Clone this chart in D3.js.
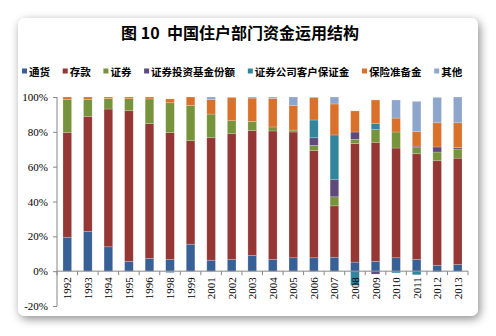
<!DOCTYPE html>
<html>
<head>
<meta charset="utf-8">
<script src="https://cdn.jsdelivr.net/npm/d3@7/dist/d3.min.js"></script>
<style>
  html, body { margin: 0; padding: 0; background: #ffffff; }
  svg { display: block; }
</style>
</head>
<body>
<svg id="chart" width="496" height="336"></svg>
<script>
// Household sector fund use structure (share of total, %)
const years = ["1992","1993","1994","1995","1996","1998","1999","2001","2002","2003",
               "2004","2005","2006","2007","2008","2009","2010","2011","2012","2013"];

const currency   = [19.5, 22.8, 14.0,  5.6,  7.3,  6.7, 15.5,  6.3,  6.7,  9.0,  6.7,  7.7,  7.7,  8.0,  5.2,  5.6,  7.7,  6.7,  3.4,  3.8];
const deposits   = [60.2, 66.1, 79.1, 86.5, 77.4, 72.8, 59.4, 70.3, 72.2, 71.7, 73.8, 72.2, 61.5, 29.5, 68.0, 68.4, 63.0, 60.7, 60.0, 61.1];
const securities = [19.0,  9.8,  6.1,  6.9, 14.2, 17.2, 20.3, 13.6,  7.5,  5.3,  2.3,  1.1,  3.0,  5.2,  2.5,  7.3,  9.2,  3.5,  5.0,  5.2];
const funds      = [ 0,    0,    0,    0,    0,    0,    0,    0,    0,    0,    0,    0,    4.4,  9.8,  4.2, -1.7,  0,    0.9,  2.9,  0.8];
const margin     = [ 0,    0,    0,    0,    0,    0,    0,    0,    0,    0,    0,    0,   10.2, 25.7, -8.2,  3.4, -1.0, -2.1, -0.5,  0  ];
const insurance  = [ 1.3,  1.3,  0.8,  1.0,  1.1,  2.2,  4.8,  8.3, 13.2, 13.4, 16.4, 14.2, 12.8, 17.8, 12.1, 13.6,  8.0,  8.3, 13.9, 14.3];
const others     = [ 0,    0,    0,    0,    0,   -1.0,  0,    1.5,  0.4,  0.6,  0.8,  4.8,  0.4,  4.0,  0,    0,   10.4, 17.4, 14.6, 14.8];

const seriesNames  = ["通货","存款","证券","证券投资基金份额","证券公司客户保证金","保险准备金","其他"];
const seriesValues = [currency, deposits, securities, funds, margin, insurance, others];
const seriesColors = ["#376196","#953735","#77933c","#604a7b","#31859c","#d9712b","#8ea6cc"];

const yTicks = [-20, 0, 20, 40, 60, 80, 100];
const titleText = "图 10  中国住户部门资金运用结构";

// ---- layout ----
const svg = d3.select("#chart");
const plot = { left: 57, right: 468, top: 97, bottom: 306 };

const defs = svg.append("defs");
const shadow = defs.append("filter").attr("id", "cardShadow")
  .attr("x", "-10%").attr("y", "-10%").attr("width", "120%").attr("height", "125%");
shadow.append("feDropShadow").attr("dx", 2).attr("dy", 3).attr("stdDeviation", 5)
  .attr("flood-color", "#000").attr("flood-opacity", 0.45);

// card
svg.append("rect")
  .attr("x", 18).attr("y", 18).attr("width", 460).attr("height", 298)
  .attr("rx", 7).attr("ry", 7)
  .attr("fill", "#ffffff")
  .attr("filter", "url(#cardShadow)");

// title
svg.append("text")
  .attr("x", 240).attr("y", 39)
  .attr("text-anchor", "middle")
  .attr("font-family", "'Noto Sans CJK SC', sans-serif")
  .attr("font-weight", 700)
  .attr("font-size", 16)
  .attr("fill", "#000")
  .attr("xml:space", "preserve")
  .text(titleText);

// legend (flow layout)
const legend = svg.append("g").attr("transform", "translate(22,71)");
let lx = 0;
seriesNames.forEach((name, i) => {
  const g = legend.append("g").attr("transform", `translate(${lx},0)`);
  g.append("rect").attr("x", 0).attr("y", -2.5).attr("width", 5).attr("height", 5)
    .attr("fill", seriesColors[i]);
  const t = g.append("text").attr("x", 7).attr("y", 0)
    .attr("dominant-baseline", "central")
    .attr("font-family", "'Noto Sans CJK SC', sans-serif")
    .attr("font-weight", 700)
    .attr("font-size", 10.5)
    .attr("fill", "#000")
    .text(name);
  lx += 7 + t.node().getComputedTextLength() + 12.7;
});

// scales
const x = d3.scaleBand().domain(years)
  .range([plot.left, plot.right])
  .paddingInner(0.58).paddingOuter(0.29);
const xEdge = d3.scaleLinear().domain([0, years.length]).range([plot.left, plot.right]);
const y = d3.scaleLinear().domain([-20, 100]).range([plot.bottom, plot.top]);

// stacked data (diverging so negative shares fall below zero)
const table = years.map((yr, i) => {
  const row = { year: yr };
  seriesNames.forEach((n, s) => { row[n] = seriesValues[s][i]; });
  return row;
});
const stacked = d3.stack().keys(seriesNames).offset(d3.stackOffsetDiverging)(table);

const barsG = svg.append("g");
stacked.forEach((layer, s) => {
  barsG.append("g").attr("fill", seriesColors[s])
    .selectAll("rect")
    .data(layer.filter(d => d[1] !== d[0]))
    .join("rect")
    .attr("x", d => x(d.data.year))
    .attr("width", x.bandwidth())
    .attr("y", d => y(Math.max(d[0], d[1])))
    .attr("height", d => Math.abs(y(d[0]) - y(d[1])))
    .attr("stroke", "rgba(255,255,255,0.35)")
    .attr("stroke-width", 0.6);
});

const axisColor = "#868686";
const tickFont = "'Liberation Serif', 'Times New Roman', serif";

// y axis
const yAxis = svg.append("g")
  .attr("transform", `translate(${plot.left},0)`)
  .call(d3.axisLeft(y).tickValues(yTicks).tickSize(4).tickPadding(5)
    .tickFormat(d => d + "%"));
yAxis.select(".domain").attr("stroke", axisColor).attr("d", `M0,${plot.bottom}V${plot.top}`);
yAxis.selectAll(".tick line").attr("stroke", axisColor);
yAxis.selectAll(".tick text")
  .attr("font-family", tickFont).attr("font-size", 11).attr("fill", "#000");

// x axis at zero line, ticks on category boundaries
const x0 = y(0);
const xAxis = svg.append("g").attr("transform", `translate(0,${x0})`);
xAxis.append("line")
  .attr("x1", plot.left).attr("x2", plot.right)
  .attr("stroke", axisColor);
xAxis.selectAll("line.edge")
  .data(d3.range(years.length + 1))
  .join("line").attr("class", "edge")
  .attr("x1", i => xEdge(i)).attr("x2", i => xEdge(i))
  .attr("y1", 0).attr("y2", 4)
  .attr("stroke", axisColor);
xAxis.selectAll("text")
  .data(years)
  .join("text")
  .attr("transform", d => `translate(${x(d) + x.bandwidth() / 2},6) rotate(-90)`)
  .attr("text-anchor", "end")
  .attr("dominant-baseline", "central")
  .attr("font-family", tickFont)
  .attr("font-size", 11)
  .attr("fill", "#000")
  .text(d => d);
</script>
</body>
</html>
